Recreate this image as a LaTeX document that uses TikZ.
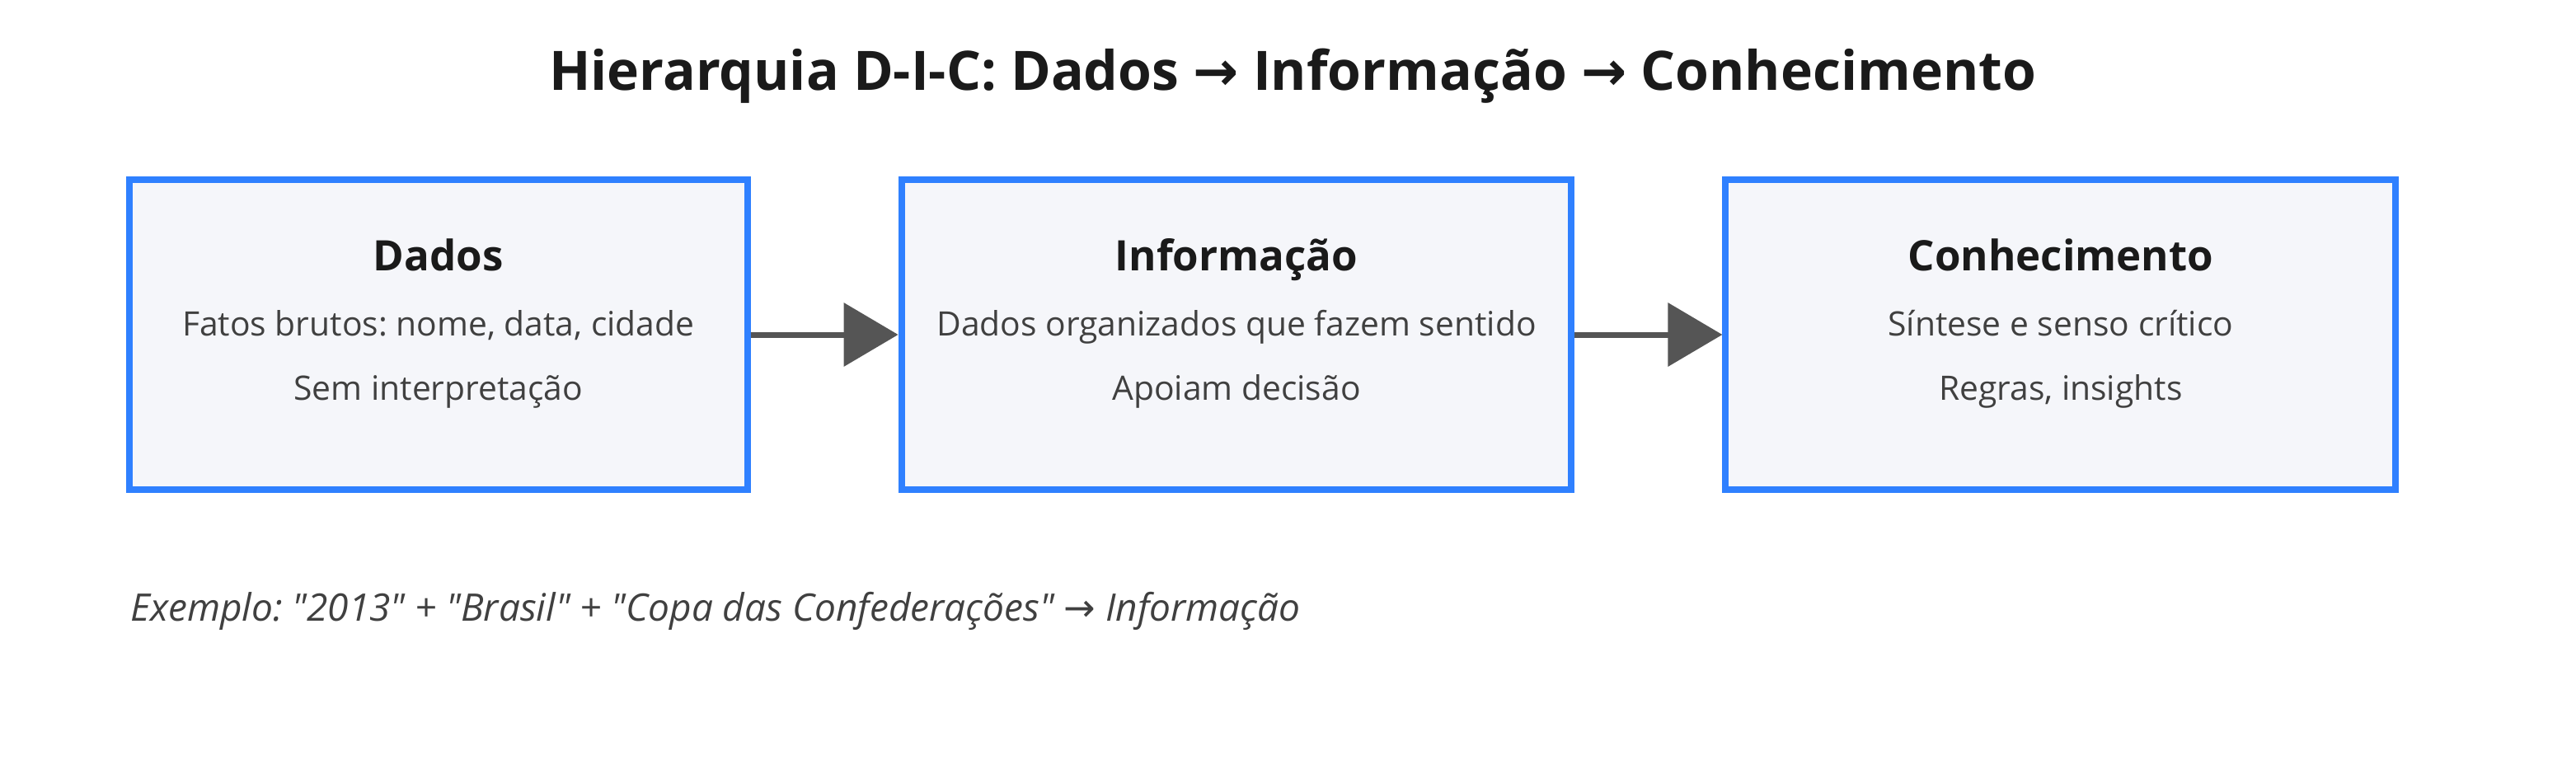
\documentclass[tikz,border=0pt]{standalone}
\usepackage{fontspec}
\setmainfont{Open Sans}
\newfontfamily\symfont{DejaVu Sans}
\usetikzlibrary{positioning, arrows.meta}
\frenchspacing

\definecolor{boxblue}{HTML}{2F80FF}
\definecolor{boxfill}{HTML}{F5F6FA}
\definecolor{arrowgray}{HTML}{555555}
\definecolor{titletext}{HTML}{1A1A1A}
\definecolor{bodytext}{HTML}{404040}
\newcommand{\seta}{{\symfont →}}
\newcommand{\aspas}[1]{\textquotedbl#1\textquotedbl}

\begin{document}
\begin{tikzpicture}[
        x=1pt, y=-1pt,
        box/.style = {draw=boxblue, line width=4pt, fill=boxfill, minimum width=406.4pt, minimum height=188pt, inner sep=0pt},
        arrow/.style = {-{Triangle[length=33pt, width=38pt]}, line width=3.5pt, draw=arrowgray},
        maintitle/.style = {font=\bfseries\fontsize{33}{38}\selectfont, text=titletext, anchor=base, inner sep=0pt},
        heading/.style = {font=\bfseries\fontsize{25.5}{30}\selectfont, text=titletext, anchor=base, inner sep=0pt},
        bodyline/.style = {font=\fontsize{20.4}{24}\selectfont, text=bodytext, anchor=base, inner sep=0pt},
        note/.style = {font=\itshape\fontsize{23}{27}\selectfont, text=bodytext, anchor=base west, inner sep=0pt}
        ]
    \useasboundingbox (0,0) rectangle (1562.5,469);

        % Titel
        \node[maintitle] (titulo) at (784,54.7) {Hierarquia D-I-C: Dados \seta{} Informação \seta{} Conhecimento};

        % Knoten
        \node[box, minimum width=374.8pt] (dados) at (265.9,203) {};
        \node[box, right=89.5pt of dados] (info) {};
        \node[box, right=89.5pt of info] (conhec) {};

        % Texte
        \node[heading, yshift=39pt] (dadosT) at (dados) {Dados};
        \node[bodyline, yshift=-0.5pt] (dadosA) at (dados) {Fatos brutos: nome, data, cidade};
        \node[bodyline, yshift=-39.5pt] (dadosB) at (dados) {Sem interpretação};

        \node[heading, yshift=39pt] (infoT) at (info) {Informação};
        \node[bodyline, yshift=-0.5pt] (infoA) at (info) {Dados organizados que fazem sentido};
        \node[bodyline, yshift=-39.5pt] (infoB) at (info) {Apoiam decisão};

        \node[heading, yshift=39pt] (conhecT) at (conhec) {Conhecimento};
        \node[bodyline, yshift=-0.5pt] (conhecA) at (conhec) {Síntese e senso crítico};
        \node[bodyline, yshift=-39.5pt] (conhecB) at (conhec) {Regras, insights};

        % Pfeile
        \draw[arrow] (dados) -- (info);
        \draw[arrow] (info) -- (conhec);

        % Beispiel
        \node[note] (exemplo) at (79,376.5) {Exemplo: \aspas{2013} + \aspas{Brasil} + \aspas{Copa das Confederações} \seta{} Informação};

\end{tikzpicture}
\end{document}
